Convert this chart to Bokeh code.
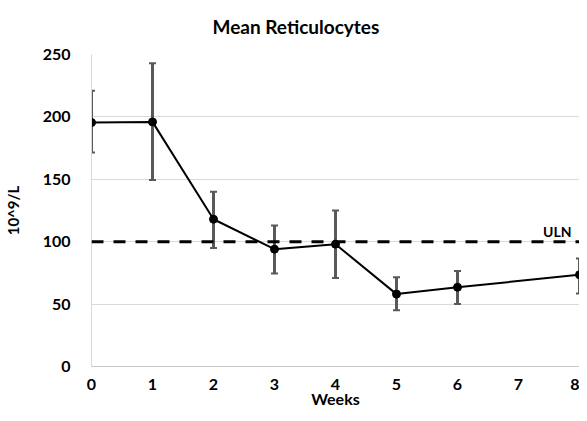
from bokeh.plotting import figure
from bokeh.models import FixedTicker, Span, Range1d, ColumnDataSource
from bokeh.core.properties import value
from bokeh.embed import file_html
from bokeh.resources import INLINE

weeks = [0, 1, 2, 3, 4, 5, 6, 8]
mean_retic = [195.5, 196, 118, 94, 98, 58, 63.5, 73.5]
upper = [221, 243, 140, 113, 125, 71.5, 76.5, 86.5]
lower = [171.5, 149.5, 95, 74.5, 71, 45, 50, 58.5]
uln = 100
x_ticks = [0, 1, 2, 3, 4, 5, 6, 7, 8]
y_ticks = [0, 50, 100, 150, 200, 250]

FONT = "Lato"

src = ColumnDataSource(dict(x=weeks, y=mean_retic, lo=lower, hi=upper))

p = figure(frame_width=488, frame_height=312, output_backend="svg",
           toolbar_location=None,
           x_range=Range1d(0, 8), y_range=Range1d(0, 250),
           min_border_left=0, min_border_right=0, min_border_top=0,
           min_border_bottom=0)
p.outline_line_color = None

p.title.text = "Mean Reticulocytes"
p.title.text_font = FONT
p.title.text_font_size = "19px"
p.title.text_font_style = "bold"
p.title.text_color = "#000000"
p.title.align = "left"
p.title.vertical_align = "top"
p.title.text_line_height = 1.0
p.title.offset = 121
p.title.standoff = 29

# axes
p.xaxis.ticker = FixedTicker(ticks=x_ticks)
p.yaxis.ticker = FixedTicker(ticks=y_ticks)
for ax in (p.xaxis[0], p.yaxis[0]):
    ax.major_tick_line_color = None
    ax.minor_tick_line_color = None
    ax.major_tick_in = 0
    ax.major_tick_out = 0
    ax.major_label_text_font = FONT
    ax.major_label_text_font_size = "16px"
    ax.major_label_text_font_style = "bold"
    ax.major_label_text_color = "#000000"
    ax.axis_label_text_font = FONT
    ax.axis_label_text_font_style = "bold"
    ax.axis_label_text_color = "#000000"
p.xaxis.axis_line_color = "#c8c8c8"
p.yaxis.axis_line_color = "#d9d9d9"
p.xaxis.major_label_standoff = 12
p.yaxis.major_label_standoff = 21
p.xaxis.axis_label = "Weeks"
p.xaxis.axis_label_text_font_size = "16px"
p.xaxis.axis_label_standoff = -4
p.yaxis.axis_label = "10^9/L"
p.yaxis.axis_label_text_font_size = "15px"
p.yaxis.axis_label_standoff = 18

p.xgrid.grid_line_color = None
p.ygrid.grid_line_color = "#d9d9d9"
p.ygrid.grid_line_width = 1

# ULN line
p.add_layout(Span(location=uln, dimension="width", line_color="#000000",
                  line_width=3, line_dash="12 10"))
p.text(x=[7.87], y=[uln + 8.5], text=["ULN"], text_align="right",
       text_baseline="alphabetic", text_font=value(FONT),
       text_font_size="14px", text_font_style="bold", text_color="#000000")

# error bars
p.segment(x0="x", y0="lo", x1="x", y1="hi", source=src,
          line_color="#595959", line_width=3)
p.scatter(x="x", y="hi", source=src, marker="dash", size=7,
          line_color="#595959", line_width=2)
p.scatter(x="x", y="lo", source=src, marker="dash", size=7,
          line_color="#595959", line_width=2)

# mean line
p.line(x="x", y="y", source=src, line_color="#000000", line_width=2)
p.scatter(x="x", y="y", source=src, size=8, fill_color="#000000",
          line_color="#000000")

open("out.html", "w").write(file_html(p, INLINE))
